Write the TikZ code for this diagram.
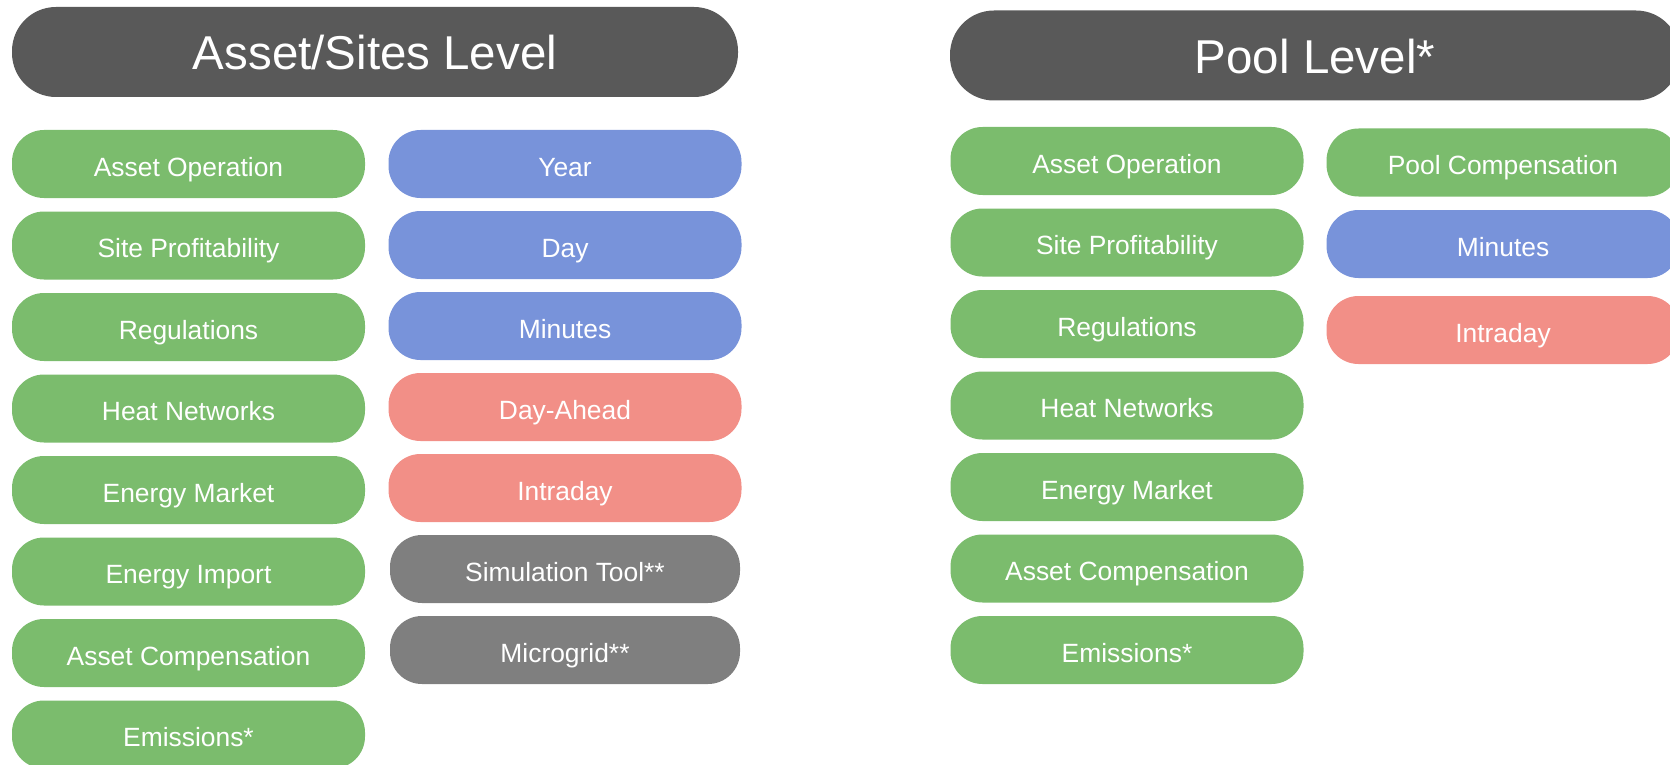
\documentclass[tikz,border=0pt]{standalone}
\usepackage{fontspec}
\setmainfont{Liberation Sans}
\usetikzlibrary{positioning}

\definecolor{headgrey}{HTML}{595959}
\definecolor{topicgreen}{HTML}{7BBC6D}
\definecolor{horizonblue}{HTML}{7893DA}
\definecolor{marketred}{HTML}{F28F87}
\definecolor{toolgrey}{HTML}{7F7F7F}

\begin{document}
\begin{tikzpicture}[x=1pt,y=-1pt,node distance=13.5pt]
    % two levels: asset/sites on the left, pool on the right
    % - green: topics, blue: time horizon, red: markets, grey: tools
    \tikzset{pill/.style = {shape=rectangle,rounded corners=32pt,minimum width=353pt,
        minimum height=68pt,inner sep=0pt,outer sep=0pt,text=white,
        font=\fontsize{26.4}{30}\selectfont,text height=24pt,text depth=0pt}}
    \tikzset{head/.style = {pill,fill=headgrey,rounded corners=44pt,minimum height=90pt,
        font=\fontsize{47.5}{55}\selectfont,text height=36pt}}
    \tikzset{topic/.style = {pill,fill=topicgreen}}
    \tikzset{horizon/.style = {pill,fill=horizonblue}}
    \tikzset{market/.style = {pill,fill=marketred}}
    \tikzset{tool/.style = {pill,fill=toolgrey,minimum width=350pt}}

    \useasboundingbox (0,0) rectangle (1670,765);
    \clip (0,0) rectangle (1670,765);

    % asset / sites level
    \node[head,minimum width=726pt] (asset) at (375,52) {Asset/Sites Level};

    \node[topic] (aop)   at (188.5,164)     {Asset Operation};
    \node[topic] (aprof) [below=of aop]     {Site Profitability};
    \node[topic] (areg)  [below=of aprof]   {Regulations};
    \node[topic] (aheat) [below=of areg]    {Heat Networks};
    \node[topic] (amkt)  [below=of aheat]   {Energy Market};
    \node[topic] (aimp)  [below=of amkt]    {Energy Import};
    \node[topic] (acomp) [below=of aimp]    {Asset Compensation};
    \node[topic] (aemi)  [below=of acomp]   {Emissions*};

    \begin{scope}[node distance=13pt]
    \node[horizon] (ayear) at (565,164)     {Year};
    \node[horizon] (aday)  [below=of ayear] {Day};
    \node[horizon] (amin)  [below=of aday]  {Minutes};
    \node[market]  (ada)   [below=of amin]  {Day-Ahead};
    \node[market]  (aid)   [below=of ada]   {Intraday};
    \node[tool]    (asim)  [below=of aid]   {Simulation Tool**};
    \node[tool]    (agrid) [below=of asim]  {Microgrid**};
    \end{scope}

    % pool level
    \node[head,minimum width=730pt] (pool) at (1315,55.5) {Pool Level*};

    \node[topic] (pop)   at (1127,161)      {Asset Operation};
    \node[topic] (pprof) [below=of pop]     {Site Profitability};
    \node[topic] (preg)  [below=of pprof]   {Regulations};
    \node[topic] (pheat) [below=of preg]    {Heat Networks};
    \node[topic] (pmkt)  [below=of pheat]   {Energy Market};
    \node[topic] (pcomp) [below=of pmkt]    {Asset Compensation};
    \node[topic] (pemi)  [below=of pcomp]   {Emissions*};

    \node[topic]   (ppc)  at (1503,162.5)   {Pool Compensation};
    \node[horizon] (pmin) [below=of ppc]    {Minutes};
    \node[market]  (pid)  [below=18pt of pmin] {Intraday};

\end{tikzpicture}
\end{document}
